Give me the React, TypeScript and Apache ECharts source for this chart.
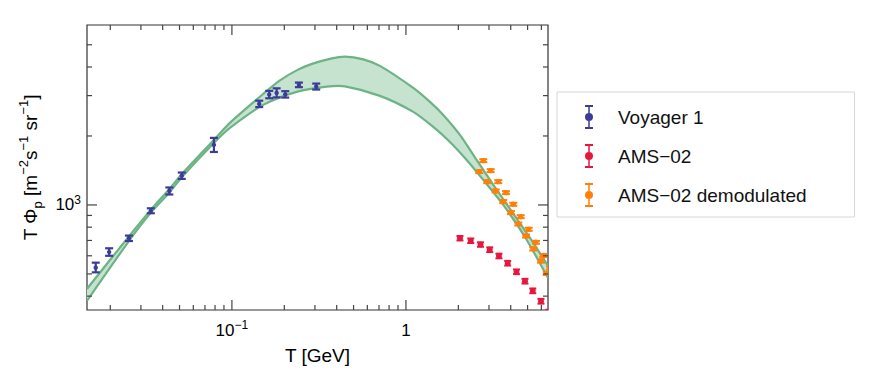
import React, { useEffect, useRef } from 'react';
import * as echarts from 'echarts';

// ---- Voyager 1 (T [GeV], T*Phi, low, high)
const voyagerT = [0.0165, 0.0197, 0.0256, 0.0342, 0.0437, 0.0515, 0.0788, 0.1435, 0.1638, 0.1807, 0.2025, 0.2427, 0.3051];
const voyagerFlux = [532, 623, 716, 943, 1151, 1341, 1828, 2761, 3032, 3084, 3038, 3342, 3286];
const voyagerLow = [508, 600, 696, 920, 1111, 1299, 1703, 2674, 2921, 2947, 2942, 3266, 3189];
const voyagerHigh = [560, 647, 735, 967, 1192, 1385, 1962, 2851, 3147, 3228, 3137, 3420, 3386];

// ---- AMS-02
const amsT = [2.043, 2.357, 2.681, 3.03, 3.423, 3.842, 4.316, 4.83, 5.355, 5.969, 6.634];
const amsFlux = [716, 698, 672, 638, 599, 557, 511, 465, 422, 380, 341];
const amsLow = [700, 682, 657, 623, 585, 544, 499, 454, 412, 371, 333];
const amsHigh = [732, 714, 687, 653, 613, 570, 523, 476, 432, 389, 349];

// ---- AMS-02 demodulated (two interleaved sets)
const demodAT = [2.638, 2.933, 3.279, 3.625, 4.012, 4.419, 4.895, 5.39, 5.969, 6.438];
const demodAFlux = [1398, 1264, 1151, 1034, 926, 826, 732, 643, 569, 503];
const demodALow = [1377, 1245, 1134, 1018, 912, 814, 721, 633, 560, 495];
const demodAHigh = [1419, 1283, 1168, 1050, 940, 838, 743, 653, 578, 511];
const demodBT = [2.782, 3.068, 3.392, 3.755, 4.138, 4.563, 5.072, 5.586, 6.153, 6.725];
const demodBFlux = [1561, 1412, 1264, 1132, 1007, 889, 783, 687, 602, 531];
const demodBLow = [1538, 1391, 1245, 1115, 992, 876, 771, 677, 593, 523];
const demodBHigh = [1584, 1433, 1283, 1149, 1022, 902, 795, 697, 611, 539];

// ---- model band
const bandUpperT = [0.01468, 0.02559, 0.03424, 0.04402, 0.05161, 0.0788, 0.09739, 0.1513, 0.1887, 0.2354, 0.2883, 0.3658, 0.4461, 0.5683, 0.7088, 1.1016, 1.374, 1.638, 2.043, 2.548, 3.176, 3.96, 5.161, 6.55];
const bandUpperFlux = [430, 729, 954, 1181, 1366, 1922, 2281, 3052, 3497, 3867, 4127, 4341, 4440, 4320, 4046, 3242, 2817, 2472, 2022, 1572, 1223, 961, 718, 542];
const bandLowerT = [0.01468, 0.02559, 0.03424, 0.04402, 0.05161, 0.0788, 0.09739, 0.1513, 0.2354, 0.3501, 0.4461, 0.7088, 1.1016, 1.435, 1.79, 2.233, 2.782, 3.625, 4.83, 6.55];
const bandLowerFlux = [381, 696, 927, 1140, 1325, 1865, 2169, 2733, 3115, 3283, 3293, 2992, 2548, 2191, 1884, 1572, 1286, 1000, 725, 480];

// ---- axes
const xMin = 0.0147;
const xMax = 6.55;
const yMin = 348;
const yMax = 6100;
const xMajorTicks = [0.1, 1];
const xMinorTicks = [0.02, 0.03, 0.04, 0.05, 0.06, 0.07, 0.08, 0.09, 0.2, 0.3, 0.4, 0.5, 0.6, 0.7, 0.8, 0.9, 2, 3, 4, 5, 6];
const yMajorTicks = [1000];
const yMinorTicks = [400, 500, 600, 700, 800, 900, 2000, 3000, 4000, 5000];

const FONT = '"Liberation Sans", Arial, Helvetica, sans-serif';
const C_VOY = '#3b3b98';
const C_AMS = '#e6173d';
const C_DEM = '#ff7f0a';
const C_BAND_LINE = '#6db386';
const C_BAND_FILL = '#c5e3cf';

const zip4 = (a: number[], b: number[], c: number[], d: number[]) => a.map((v, i) => [v, b[i], c[i], d[i]]);

const LEGEND_ICON =
  'path://M0,0H8V2H0Z M3.25,2H4.75V8.3H3.25Z M3.25,15.7H4.75V22H3.25Z M0,22H8V24H0Z M4,8A4,4 0 1 1 4,16A4,4 0 1 1 4,8Z';

const fmtPow = (v: number) => {
  const l = Math.log10(v);
  const k = Math.round(l);
  if (Math.abs(l - k) > 1e-6) return '';
  if (k === 0) return '1';
  if (k === 1) return '10';
  return '10{sup|' + (k < 0 ? '\u2212' + String(-k) : String(k)) + '}';
};

const errorSeries = (name: string, color: string, data: number[][], capHalf: number, lw: number, r: number) => ({
  type: 'custom',
  name,
  coordinateSystem: 'cartesian2d',
  clip: true,
  z: 5,
  silent: true,
  itemStyle: { color },
  encode: { x: 0, y: 1 },
  data,
  renderItem: (params: any, api: any) => {
    const x = api.value(0);
    const c = api.coord([x, api.value(1)]);
    const a = api.coord([x, api.value(2)]);
    const b = api.coord([x, api.value(3)]);
    const st = { stroke: color, lineWidth: lw };
    return {
      type: 'group',
      children: [
        { type: 'line', shape: { x1: c[0], y1: a[1], x2: c[0], y2: b[1] }, style: st },
        { type: 'line', shape: { x1: c[0] - capHalf, y1: a[1], x2: c[0] + capHalf, y2: a[1] }, style: st },
        { type: 'line', shape: { x1: c[0] - capHalf, y1: b[1], x2: c[0] + capHalf, y2: b[1] }, style: st },
        { type: 'circle', shape: { cx: c[0], cy: c[1], r }, style: { fill: color } },
      ],
    };
  },
});

export default function App() {
  const ref = useRef<HTMLDivElement>(null);

  useEffect(() => {
    if (!ref.current) return;
    const chart = echarts.init(ref.current, undefined, { renderer: 'svg' });

    const tickData = [
      ...xMinorTicks.map((v) => [v, 1000, 0]),
      ...xMajorTicks.map((v) => [v, 1000, 1]),
      ...yMinorTicks.map((v) => [0.1, v, 2]),
      ...yMajorTicks.map((v) => [0.1, v, 3]),
    ];

    const option: any = {
      animation: false,
      backgroundColor: '#fff',
      textStyle: { fontFamily: FONT },
      grid: {
        left: 87,
        top: 25,
        right: 324,
        bottom: 74,
        show: true,
        borderColor: '#333',
        borderWidth: 1.2,
        backgroundColor: 'transparent',
      },
      legend: {
        orient: 'vertical',
        left: 557,
        top: 92,
        data: ['Voyager 1', 'AMS-02', 'AMS-02 demodulated'],
        icon: LEGEND_ICON,
        itemWidth: 8,
        itemHeight: 24,
        itemGap: 15,
        padding: [13, 48, 10, 28],
        borderColor: '#d6d6d6',
        borderWidth: 1,
        selectedMode: false,
        formatter: (n: string) => '{pad|}' + n.replace('AMS-02', 'AMS\u221202'),
        textStyle: {
          fontSize: 19,
          color: '#111',
          fontFamily: FONT,
          rich: { pad: { width: 20 } },
        },
      },
      xAxis: {
        type: 'log',
        logBase: 10,
        min: xMin,
        max: xMax,
        axisLine: { show: false },
        axisTick: { show: false },
        splitLine: { show: false },
        axisLabel: {
          formatter: fmtPow,
          fontSize: 17,
          color: '#000',
          margin: 9,
          lineHeight: 22,
          fontFamily: FONT,
          rich: { sup: { fontSize: 12, lineHeight: 12, verticalAlign: 'top', color: '#000', fontFamily: FONT } },
        },
        name: 'T [GeV]',
        nameLocation: 'middle',
        nameGap: 33,
        nameTextStyle: { fontSize: 19, color: '#000', fontFamily: FONT },
      },
      yAxis: {
        type: 'log',
        logBase: 10,
        min: yMin,
        max: yMax,
        axisLine: { show: false },
        axisTick: { show: false },
        splitLine: { show: false },
        axisLabel: {
          formatter: fmtPow,
          fontSize: 17,
          color: '#000',
          margin: 6,
          lineHeight: 22,
          fontFamily: FONT,
          rich: { sup: { fontSize: 12, lineHeight: 12, verticalAlign: 'top', color: '#000', fontFamily: FONT } },
        },
        name: 'T \u03a6{sub|p} [m{sup|\u22122}s{sup|\u22121} sr{sup|\u22121}]',
        nameLocation: 'middle',
        nameRotate: 90,
        nameGap: 43,
        nameTextStyle: {
          fontSize: 19,
          color: '#000',
          lineHeight: 27,
          fontFamily: FONT,
          rich: {
            sup: { fontSize: 13, lineHeight: 13, verticalAlign: 'top', color: '#000', fontFamily: FONT },
            sub: { fontSize: 13, lineHeight: 13, verticalAlign: 'bottom', color: '#000', fontFamily: FONT },
          },
        },
      },
      series: [
        {
          type: 'custom',
          name: 'band',
          coordinateSystem: 'cartesian2d',
          clip: true,
          silent: true,
          z: 1,
          encode: { x: 0, y: 1 },
          data: [[bandUpperT[0], bandUpperFlux[0]]],
          renderItem: (params: any, api: any) => {
            const up = bandUpperT.map((t, i) => api.coord([t, bandUpperFlux[i]]));
            const lo = bandLowerT.map((t, i) => api.coord([t, bandLowerFlux[i]]));
            const poly = up.concat(lo.slice().reverse());
            return {
              type: 'group',
              children: [
                { type: 'polygon', shape: { points: poly, smooth: 0.25 }, style: { fill: C_BAND_FILL } },
                { type: 'polyline', shape: { points: up, smooth: 0.25 }, style: { stroke: C_BAND_LINE, lineWidth: 2.2, fill: null } },
                { type: 'polyline', shape: { points: lo, smooth: 0.25 }, style: { stroke: C_BAND_LINE, lineWidth: 2.2, fill: null } },
              ],
            };
          },
        },
        errorSeries('Voyager 1', C_VOY, zip4(voyagerT, voyagerFlux, voyagerLow, voyagerHigh), 4, 2.2, 2.2),
        errorSeries('AMS-02', C_AMS, zip4(amsT, amsFlux, amsLow, amsHigh), 3.5, 2, 3),
        errorSeries(
          'AMS-02 demodulated',
          C_DEM,
          zip4(demodAT, demodAFlux, demodALow, demodAHigh).concat(zip4(demodBT, demodBFlux, demodBLow, demodBHigh)),
          4,
          2,
          2.7
        ),
        {
          type: 'custom',
          name: 'ticks',
          coordinateSystem: 'cartesian2d',
          clip: false,
          silent: true,
          z: 10,
          encode: { x: 0, y: 1 },
          data: tickData,
          renderItem: (params: any, api: any) => {
            const cs = params.coordSys;
            const kind = api.value(2);
            const p = api.coord([api.value(0), api.value(1)]);
            const len = kind === 1 || kind === 3 ? 10 : 5;
            const st = { stroke: '#444', lineWidth: 1.2 };
            if (kind < 2) {
              return {
                type: 'group',
                children: [
                  { type: 'line', shape: { x1: p[0], y1: cs.y + cs.height, x2: p[0], y2: cs.y + cs.height - len }, style: st },
                  { type: 'line', shape: { x1: p[0], y1: cs.y, x2: p[0], y2: cs.y + len }, style: st },
                ],
              };
            }
            return {
              type: 'group',
              children: [
                { type: 'line', shape: { x1: cs.x, y1: p[1], x2: cs.x + len, y2: p[1] }, style: st },
                { type: 'line', shape: { x1: cs.x + cs.width, y1: p[1], x2: cs.x + cs.width - len, y2: p[1] }, style: st },
              ],
            };
          },
        },
      ],
    };

    chart.setOption(option);
    return () => chart.dispose();
  }, []);

  return (
    <div
      ref={ref}
      style={{ position: 'fixed', left: 0, top: 0, width: 872, height: 384, background: '#fff' }}
    />
  );
}
